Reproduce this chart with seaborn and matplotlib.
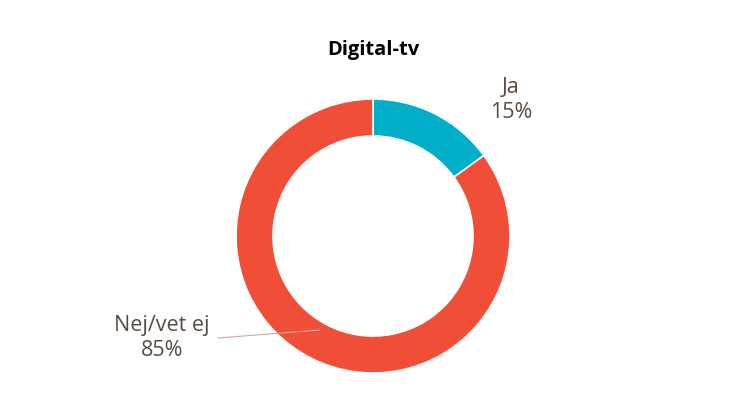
import matplotlib
matplotlib.use("Agg")
import matplotlib.pyplot as plt
import seaborn as sns

categories = ["Ja", "Nej/vet ej"]
values = [15, 85]
colors = ["#00AEC7", "#F04E37"]
title = "Digital-tv"

sns.set_style("white")
plt.rcParams['font.family'] = ['Open Sans', 'DejaVu Sans']

fig = plt.figure(figsize=(7.46, 4.19), dpi=100)
ax = fig.add_axes([0, 0, 1, 1])

cx, cy, r = 373, 419 - 236, 137
ax.pie(values, colors=colors, startangle=90, counterclock=False,
       center=(cx, cy), radius=r, frame=True,
       wedgeprops=dict(width=r * 0.27, edgecolor="white", linewidth=1.2))
ax.set_xlim(0, 746)
ax.set_ylim(0, 419)
ax.set_aspect("equal")
ax.axis("off")

tc = "#5B4A42"
ax.text(cx, 419 - 50, title, ha="center", va="center", fontsize=14.5, fontweight="bold", color="black")
ax.text(511, 419 - 100, f"{categories[0]}\n{values[0]}%", ha="center", va="center",
        fontsize=15.5, color=tc, linespacing=1.3)
ax.text(162, 419 - 338, f"{categories[1]}\n{values[1]}%", ha="center", va="center",
        fontsize=15.5, color=tc, linespacing=1.3)
ax.plot([218, 320], [419 - 338, 419 - 330], color="#C9A9A0", linewidth=0.8)

fig.savefig("out.png", dpi=100)
